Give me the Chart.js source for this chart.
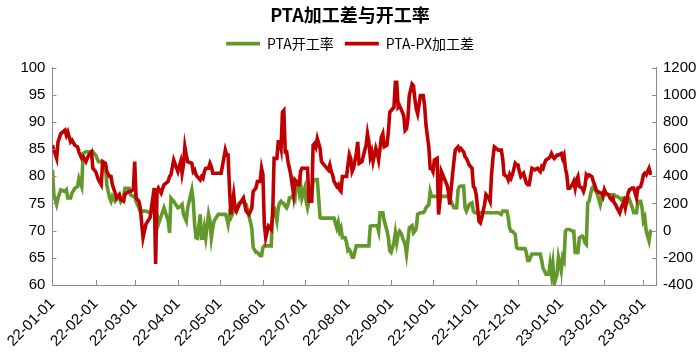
<!DOCTYPE html>
<html><head><meta charset="utf-8">
<script src="https://cdn.jsdelivr.net/npm/chart.js@4/dist/chart.umd.min.js"></script>
<style>html,body{margin:0;padding:0;background:#fff;}#wrap{width:700px;height:357px;position:relative;}</style>
</head><body><div id="wrap"><canvas id="c" width="700" height="357"></canvas></div>
<script>
const dates = [
'2022-01-01','2022-01-02','2022-01-04','2022-01-05','2022-01-07','2022-01-10','2022-01-11','2022-01-12','2022-01-14','2022-01-15',
'2022-01-17','2022-01-19','2022-01-20','2022-01-22','2022-01-23','2022-01-25','2022-01-27','2022-01-29','2022-01-30','2022-02-01',
'2022-02-03','2022-02-05','2022-02-06','2022-02-08','2022-02-09','2022-02-11','2022-02-12','2022-02-13','2022-02-15','2022-02-16',
'2022-02-18','2022-02-19','2022-02-21','2022-02-22','2022-02-23','2022-02-25','2022-02-26','2022-02-28','2022-03-01','2022-03-02',
'2022-03-04','2022-03-05','2022-03-07','2022-03-08','2022-03-09','2022-03-12','2022-03-15','2022-03-16','2022-03-17','2022-03-18',
'2022-03-20','2022-03-22','2022-03-25','2022-03-26','2022-03-27','2022-03-29','2022-04-01','2022-04-03','2022-04-04','2022-04-05',
'2022-04-06','2022-04-07','2022-04-08','2022-04-11','2022-04-12','2022-04-13','2022-04-14','2022-04-15','2022-04-17','2022-04-18',
'2022-04-19','2022-04-20','2022-04-21','2022-04-23','2022-04-24','2022-04-25','2022-04-26','2022-04-27','2022-04-30','2022-05-02',
'2022-05-05','2022-05-06','2022-05-07','2022-05-08','2022-05-09','2022-05-11','2022-05-12','2022-05-13','2022-05-15','2022-05-18',
'2022-05-20','2022-05-22','2022-05-24','2022-05-25','2022-05-27','2022-05-28','2022-05-30','2022-05-31','2022-06-01','2022-06-02',
'2022-06-03','2022-06-05','2022-06-06','2022-06-07','2022-06-08','2022-06-09','2022-06-11','2022-06-12','2022-06-13','2022-06-14',
'2022-06-15','2022-06-16','2022-06-17','2022-06-18','2022-06-19','2022-06-20','2022-06-21','2022-06-23','2022-06-24','2022-06-25',
'2022-06-26','2022-06-27','2022-06-28','2022-06-29','2022-07-01','2022-07-02','2022-07-03','2022-07-04','2022-07-06','2022-07-07',
'2022-07-08','2022-07-09','2022-07-10','2022-07-12','2022-07-13','2022-07-15','2022-07-18','2022-07-19','2022-07-20','2022-07-21',
'2022-07-22','2022-07-24','2022-07-25','2022-07-26','2022-07-27','2022-07-28','2022-07-30','2022-07-31','2022-08-01','2022-08-02',
'2022-08-03','2022-08-04','2022-08-05','2022-08-07','2022-08-08','2022-08-09','2022-08-11','2022-08-14','2022-08-15','2022-08-16',
'2022-08-17','2022-08-18','2022-08-19','2022-08-21','2022-08-22','2022-08-23','2022-08-24','2022-08-25','2022-08-26','2022-08-27',
'2022-08-29','2022-08-30','2022-08-31','2022-09-01','2022-09-03','2022-09-04','2022-09-05','2022-09-06','2022-09-07','2022-09-08',
'2022-09-10','2022-09-11','2022-09-12','2022-09-13','2022-09-14','2022-09-16','2022-09-17','2022-09-18','2022-09-19','2022-09-20',
'2022-09-22','2022-09-24','2022-09-25','2022-09-26','2022-09-28','2022-09-29','2022-09-30','2022-10-01','2022-10-02','2022-10-04',
'2022-10-05','2022-10-06','2022-10-07','2022-10-08','2022-10-09','2022-10-11','2022-10-12','2022-10-13','2022-10-15','2022-10-16',
'2022-10-17','2022-10-18','2022-10-19','2022-10-20','2022-10-21','2022-10-23','2022-10-24','2022-10-25','2022-10-26','2022-10-27',
'2022-10-29','2022-10-30','2022-10-31','2022-11-01','2022-11-03','2022-11-04','2022-11-05','2022-11-06','2022-11-07','2022-11-08',
'2022-11-10','2022-11-11','2022-11-12','2022-11-13','2022-11-14','2022-11-17','2022-11-19','2022-11-20','2022-11-21','2022-11-23',
'2022-11-24','2022-11-25','2022-11-26','2022-11-27','2022-11-29','2022-11-30','2022-12-01','2022-12-02','2022-12-03','2022-12-05',
'2022-12-06','2022-12-07','2022-12-08','2022-12-09','2022-12-11','2022-12-13','2022-12-15','2022-12-17','2022-12-18','2022-12-19',
'2022-12-20','2022-12-21','2022-12-23','2022-12-24','2022-12-25','2022-12-26','2022-12-27','2022-12-29','2022-12-30','2023-01-01',
'2023-01-02','2023-01-03','2023-01-04','2023-01-05','2023-01-06','2023-01-07','2023-01-09','2023-01-10','2023-01-11','2023-01-12',
'2023-01-13','2023-01-14','2023-01-16','2023-01-17','2023-01-18','2023-01-19','2023-01-20','2023-01-21','2023-01-23','2023-01-24',
'2023-01-25','2023-01-26','2023-01-27','2023-01-29','2023-01-30','2023-01-31','2023-02-01','2023-02-02','2023-02-04','2023-02-05',
'2023-02-06','2023-02-07','2023-02-08','2023-02-09','2023-02-10','2023-02-12','2023-02-13','2023-02-14','2023-02-15','2023-02-16',
'2023-02-17','2023-02-18','2023-02-19','2023-02-21','2023-02-22','2023-02-23','2023-02-24','2023-02-25','2023-02-27','2023-02-28',
'2023-03-01','2023-03-02','2023-03-03','2023-03-05','2023-03-06','2023-03-07'
];
const rate = [
81.2,76.6,74.8,76.0,77.5,77.2,77.5,76.0,76.0,76.9,
77.8,78.1,79.6,78.1,84.2,84.5,84.5,84.5,84.5,83.9,
82.7,82.7,82.7,82.1,78.4,76.0,75.4,76.3,75.4,75.7,
76.3,75.4,76.3,77.8,77.8,77.8,76.6,76.3,76.3,75.4,
74.2,73.6,73.6,73.6,73.6,73.3,73.4,73.3,72.9,71.2,
72.7,74.2,71.8,69.6,76.0,75.4,74.2,74.5,74.8,73.0,
72.4,71.8,74.2,77.5,75.4,71.2,68.7,68.6,73.0,68.6,
68.6,70.5,68.7,73.0,71.8,68.7,70.5,71.8,73.0,73.0,
73.0,72.4,71.2,73.0,72.4,73.6,74.2,74.2,75.1,75.4,
74.8,72.7,70.5,66.9,66.0,66.0,65.4,65.4,66.9,67.2,
67.2,67.2,67.2,67.2,74.2,74.2,71.8,74.2,75.1,75.4,
75.1,75.0,74.5,74.2,74.8,76.0,76.0,76.6,76.0,79.0,
79.0,77.2,78.7,76.0,77.8,75.4,74.2,75.4,76.6,79.0,
79.4,79.4,79.4,72.4,72.3,72.3,72.3,72.3,72.3,72.3,
72.3,70.5,71.5,69.9,70.5,68.7,68.7,67.8,66.3,66.5,
66.0,65.1,65.1,67.2,67.2,67.2,67.2,67.2,67.2,67.2,
70.8,70.9,70.9,70.9,70.9,69.9,73.3,73.3,73.3,71.8,
70.0,68.7,66.3,66.0,67.8,69.6,67.8,69.3,69.9,69.6,
68.1,67.5,65.7,68.1,70.5,70.9,69.6,69.9,70.5,73.0,
73.3,73.3,73.6,74.2,74.8,77.2,76.3,76.3,76.3,76.3,
76.3,76.3,76.3,76.3,76.3,76.3,76.3,75.9,74.8,74.2,
74.2,74.2,77.5,78.1,78.2,78.2,74.2,73.6,74.2,74.8,
75.1,73.6,73.3,73.3,73.3,73.3,73.3,73.3,73.3,73.3,
73.3,73.3,73.3,73.3,73.3,73.3,73.0,73.6,73.6,73.6,
72.4,70.5,69.9,69.9,69.3,66.9,66.7,66.7,66.7,66.7,
66.7,66.0,64.5,64.5,65.7,65.7,65.7,65.7,64.5,63.0,
62.6,62.0,62.0,63.9,62.0,63.9,60.2,62.0,65.1,62.6,
65.1,64.5,69.9,70.2,70.2,70.2,69.9,69.9,66.0,66.0,
66.0,68.7,69.0,68.7,67.8,67.5,75.1,75.4,77.8,78.1,
77.5,77.2,76.6,74.8,76.0,76.9,76.6,76.6,76.6,76.6,
76.6,76.6,76.6,76.3,76.3,76.0,75.7,76.0,76.0,76.0,
75.7,75.4,75.7,74.2,73.3,73.3,73.3,75.4,75.4,74.2,
71.8,72.4,69.9,68.1,69.9,69.9
];
const spread = [
629,593,532,653,714,739,702,726,653,666,
629,617,580,532,544,508,556,580,459,435,
374,338,508,495,435,398,398,338,277,240,
265,228,216,265,277,289,289,301,508,240,
216,167,-51,-3,46,95,313,-246,289,313,
277,338,362,398,411,520,435,508,422,483,
617,556,508,495,435,447,411,398,374,398,
386,435,459,459,495,471,422,422,422,422,
593,556,556,313,119,265,167,143,192,240,
143,119,167,289,313,362,362,459,411,46,
-51,34,22,10,119,532,532,653,653,605,
872,884,580,580,508,459,411,265,374,362,
338,338,435,459,459,459,459,216,216,629,
641,617,677,605,508,483,447,483,435,411,
362,325,338,301,289,398,398,398,483,560,
532,435,459,568,653,495,508,629,714,653,
544,580,508,605,568,520,605,690,714,617,
629,726,872,884,908,1091,1091,908,920,896,
848,738,750,823,994,1078,1066,969,896,860,
994,994,920,775,617,459,459,435,520,532,
119,216,435,411,386,338,290,192,411,508,
593,605,617,593,605,580,544,532,508,483,
459,325,313,265,70,58,94,143,192,265,
240,216,411,532,617,593,593,532,411,398,
374,411,386,411,495,483,483,435,398,422,
386,350,338,338,459,447,459,435,471,459,
495,520,532,544,568,544,532,556,556,568,
532,556,459,411,313,313,338,362,313,374,
398,325,313,289,325,411,398,411,398,362,
338,301,289,277,277,253,301,277,265,240,
228,240,204,192,167,131,167,192,216,167,
216,277,301,313,313,277,240,313,325,362,
411,423,411,459,423,423
];
const monthTicks = ['2022-01-01','2022-02-01','2022-03-01','2022-04-01','2022-05-01','2022-06-01','2022-07-01','2022-08-01','2022-09-01','2022-10-01','2022-11-01','2022-12-01','2023-01-01','2023-02-01','2023-03-01'];
const tickLabels = ['22-01-01','22-02-01','22-03-01','22-04-01','22-05-01','22-06-01','22-07-01','22-08-01','22-09-01','22-10-01','22-11-01','22-12-01','23-01-01','23-02-01','23-03-01'];
const axisStart = '2022-01-01', axisEnd = '2023-03-10';

const GREEN = '#62992A', RED = '#C00000', AX = '#8C8C8C';
function dayNum(s){const p=s.split('-').map(Number);return Math.round((Date.UTC(p[0],p[1]-1,p[2])-Date.UTC(2022,0,1))/86400000);}
const tickVals = monthTicks.map(dayNum);

const innerTicks = {
  id:'innerTicks',
  afterDatasetsDraw(chart){
    const {ctx, chartArea:a, scales} = chart;
    ctx.save(); ctx.strokeStyle = AX; ctx.lineWidth = 1; ctx.beginPath();
    scales.x.ticks.forEach(t=>{const px=Math.round(scales.x.getPixelForValue(t.value))+0.5; ctx.moveTo(px,a.bottom); ctx.lineTo(px,a.bottom-5);});
    scales.y.ticks.forEach(t=>{const py=Math.round(scales.y.getPixelForValue(t.value))+0.5; ctx.moveTo(a.left,py); ctx.lineTo(a.left+4,py);});
    scales.y1.ticks.forEach(t=>{const py=Math.round(scales.y1.getPixelForValue(t.value))+0.5; ctx.moveTo(a.right,py); ctx.lineTo(a.right-4,py);});
    ctx.stroke(); ctx.restore();
  }
};

const tickFont = {family:"'Liberation Sans', Arial, sans-serif", size:15};
new Chart(document.getElementById('c'), {
  type:'line',
  data:{datasets:[
    {label:'PTA开工率', data:dates.map((d,i)=>({x:dayNum(d), y:rate[i]})), yAxisID:'y',
     borderColor:GREEN, backgroundColor:GREEN, borderWidth:3.6, pointRadius:0, tension:0, order:2},
    {label:'PTA-PX加工差', data:dates.map((d,i)=>({x:dayNum(d), y:spread[i]})), yAxisID:'y1',
     borderColor:RED, backgroundColor:RED, borderWidth:3.6, pointRadius:0, tension:0, order:1}
  ]},
  options:{
    responsive:false, animation:false, devicePixelRatio:1,
    layout:{padding:{top:0,left:0,right:0,bottom:0}},
    plugins:{
      title:{display:true, text:'PTA加工差与开工率', color:'#000',
        font:{family:"'Noto Sans CJK SC', sans-serif", size:18, weight:'bold'}, padding:{top:4,bottom:0}},
      subtitle:{display:true, text:'', weight:500, font:{size:5}, padding:{top:1,bottom:0}},
      legend:{display:true, labels:{usePointStyle:true, pointStyle:'line', pointStyleWidth:34, color:'#000',
        font:{family:"'Noto Sans CJK SC', sans-serif", size:14}, padding:11,
        sort:(a,b)=>a.datasetIndex-b.datasetIndex}},
      tooltip:{enabled:false}
    },
    scales:{
      x:{type:'linear', min:dayNum(axisStart), max:dayNum(axisEnd),
        afterBuildTicks:s=>{s.ticks = tickVals.map(v=>({value:v}));},
        ticks:{autoSkip:false, maxRotation:45, minRotation:45, color:'#000',
          font:{family:"'Liberation Sans', Arial, sans-serif", size:15}, padding:10,
          callback:(v)=>{const i=tickVals.indexOf(v); return i>=0?tickLabels[i]:'';}},
        grid:{display:false, drawTicks:false}, border:{display:true, color:AX},
        afterFit:s=>{s.height=72;}},
      y:{position:'left', min:60, max:100,
        ticks:{stepSize:5, color:'#000', font:tickFont, padding:7, callback:v=>String(v)},
        grid:{display:false, drawTicks:false}, border:{display:true, color:AX},
        afterFit:s=>{s.width=52;}},
      y1:{position:'right', min:-400, max:1200,
        ticks:{stepSize:200, color:'#000', font:tickFont, padding:7, callback:v=>String(v)},
        grid:{display:false, drawTicks:false}, border:{display:true, color:AX},
        afterFit:s=>{s.width=44;}}
    }
  },
  plugins:[innerTicks]
});
</script></body></html>
